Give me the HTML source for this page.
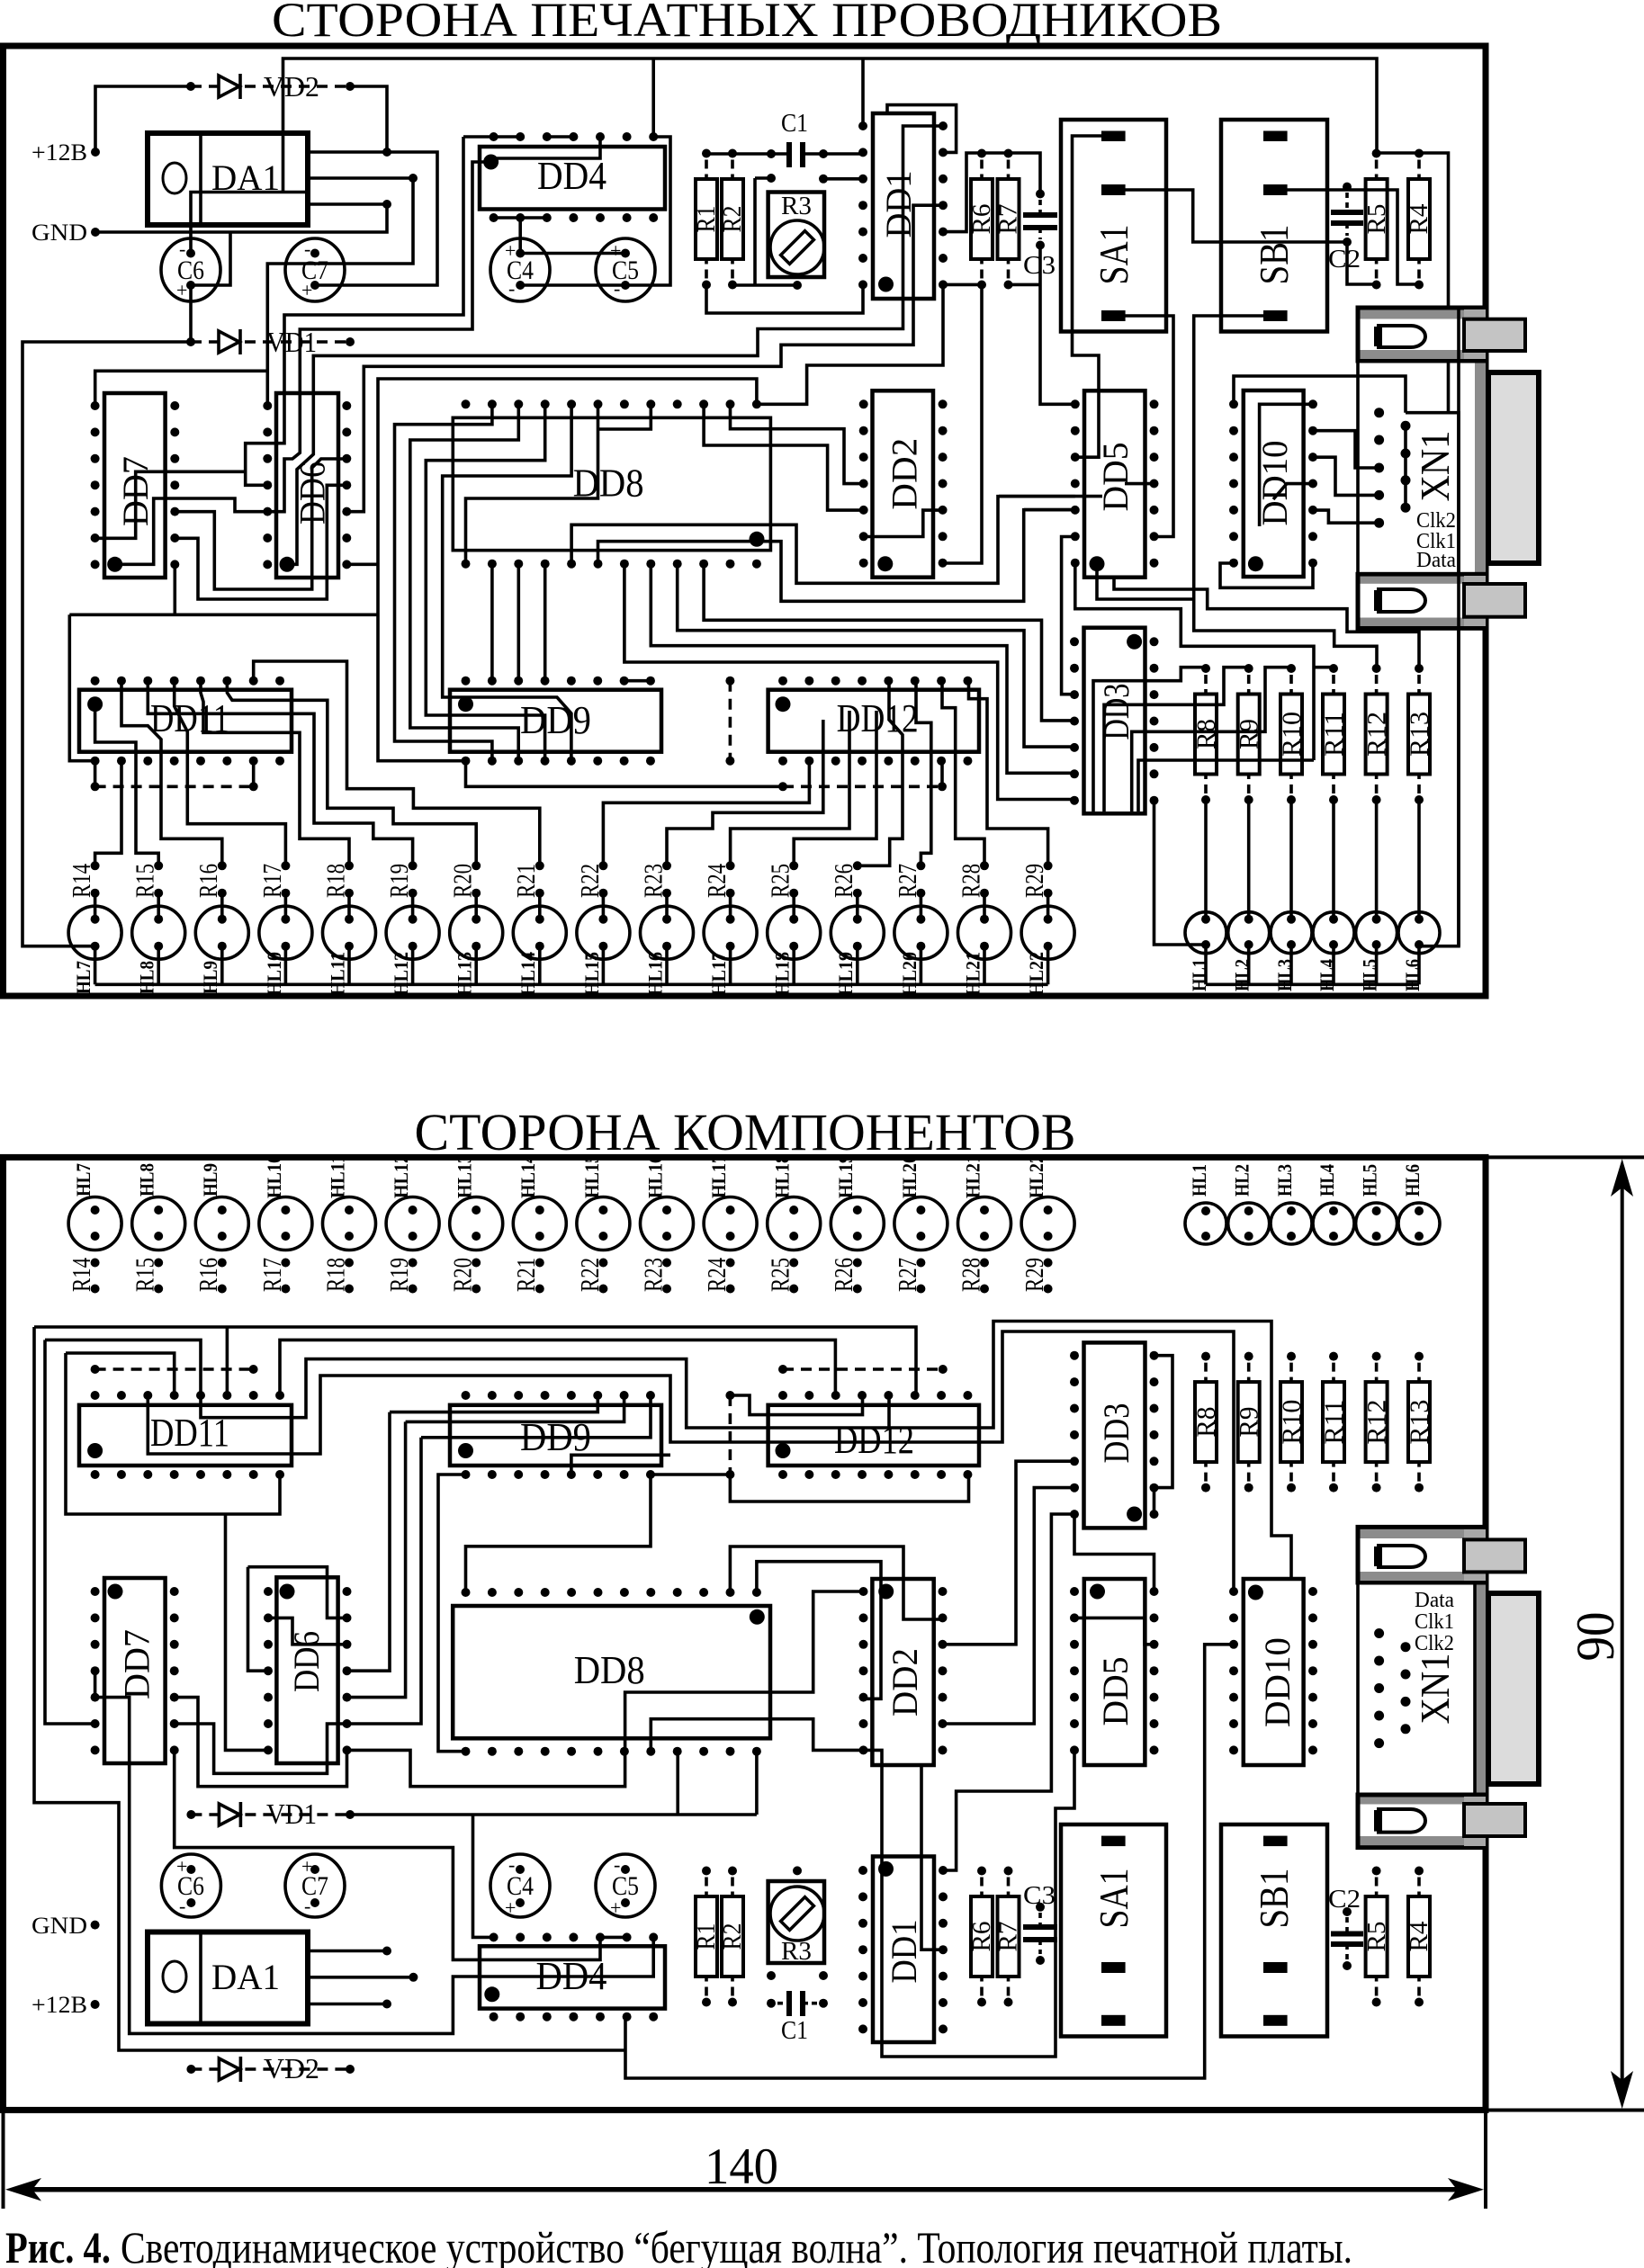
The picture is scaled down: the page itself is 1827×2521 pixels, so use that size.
<!DOCTYPE html>
<html><head><meta charset="utf-8">
<style>
html,body{margin:0;padding:0;background:#fff;}
svg{display:block;}
.t{fill:none;stroke:#000;stroke-width:3.6;}
.ch{fill:none;stroke:#000;stroke-width:4.5;}
.ds{fill:none;stroke:#000;stroke-width:3.6;stroke-dasharray:12 8;}
.ld{fill:none;stroke:#000;stroke-width:3.6;}
text{font-family:"Liberation Serif","DejaVu Serif",serif;fill:#000;}
.b{font-weight:bold;}
</style></head><body>
<svg width="1827" height="2521" viewBox="0 0 1827 2521" xmlns="http://www.w3.org/2000/svg">
<defs>
<g id="c7"><circle cx="0" cy="0" r="5"/><circle cx="0" cy="29.4" r="5"/><circle cx="0" cy="58.8" r="5"/><circle cx="0" cy="88.2" r="5"/><circle cx="0" cy="117.6" r="5"/><circle cx="0" cy="147" r="5"/><circle cx="0" cy="176.4" r="5"/></g>
<g id="r8"><circle cx="0" cy="0" r="5"/><circle cx="29.35" cy="0" r="5"/><circle cx="58.7" cy="0" r="5"/><circle cx="88.05" cy="0" r="5"/><circle cx="117.4" cy="0" r="5"/><circle cx="146.75" cy="0" r="5"/><circle cx="176.1" cy="0" r="5"/><circle cx="205.45" cy="0" r="5"/></g>
<g id="r12"><circle cx="0" cy="0" r="5"/><circle cx="29.4" cy="0" r="5"/><circle cx="58.8" cy="0" r="5"/><circle cx="88.2" cy="0" r="5"/><circle cx="117.6" cy="0" r="5"/><circle cx="147" cy="0" r="5"/><circle cx="176.4" cy="0" r="5"/><circle cx="205.8" cy="0" r="5"/><circle cx="235.2" cy="0" r="5"/><circle cx="264.6" cy="0" r="5"/><circle cx="294" cy="0" r="5"/><circle cx="323.4" cy="0" r="5"/></g>
<g id="r7"><circle cx="0" cy="0" r="5"/><circle cx="29.6" cy="0" r="5"/><circle cx="59.2" cy="0" r="5"/><circle cx="88.8" cy="0" r="5"/><circle cx="118.4" cy="0" r="5"/><circle cx="148" cy="0" r="5"/><circle cx="177.6" cy="0" r="5"/></g>
<g id="ledT"><circle r="29.5" class="ld"/><path d="M0,-44V-15M0,15V57.6" class="t"/><circle cy="-15" r="5"/><circle cy="15" r="5"/><circle cy="-74.4" r="5"/><circle cy="-44" r="5"/></g>
<g id="ledST"><circle r="23" class="ld"/><path d="M0,13.3V57.6" class="t"/><circle cy="-15" r="5"/><circle cy="13.3" r="5"/></g>
<g id="ledB"><circle r="29.5" class="ld"/><circle cy="-15" r="5"/><circle cy="14" r="5"/><circle cy="43.5" r="5"/><circle cy="72.5" r="5"/></g>
<g id="ledSB"><circle r="23" class="ld"/><circle cy="-14" r="5"/><circle cy="14" r="5"/></g>
<g id="res"><rect x="-12" y="-44.5" width="24" height="89" fill="none" stroke="#000" stroke-width="4"/><path d="M0,-66V-56M0,-50V-44.5M0,44.5V50M0,56V66" class="t"/><circle cy="-73" r="5"/><circle cy="73" r="5"/></g>
<g id="diode"><path d="M31,-12V12L54,0Z" fill="#fff" stroke="#000" stroke-width="3.6"/><path d="M55,-14V14" class="t"/></g>
</defs>

<!-- ================= TOP BOARD ================= -->
<text x="302" y="40" font-size="54" textLength="1056" lengthAdjust="spacingAndGlyphs">СТОРОНА ПЕЧАТНЫХ ПРОВОДНИКОВ</text>
<rect x="3.5" y="51" width="1647.5" height="1056" fill="none" stroke="#000" stroke-width="7"/>

<!-- traces -->
<path class="t" d="M106,169V96H212 M389,96H430V169 M342,169H486V317H350 M342,198H459V293H297.3V451 M342,227H430V258H106 M256,258V317H212 M342,213.5H212V281.5 M314.5,213.5V65H1530V170 M726.2,65V152 M959,65V140 M212,317V380 M212,380H25V1051.7H105.6"/>
<path class="t" d="M515,152V350H316V492.7H272.7V539.3H297.3 M272.7,524.3H150.7V598.3H105.7 M545.6,180H525V366H333.3V503.3L325,510H316V568.7H261V554H170.7V627.3H127.7 M515,152H578.2 M607.8,152H637.4 M667,152V176H545.6 M726.2,152H745V317H578.2 M548.6,242H607.8 M578.2,242V281.5H695 M785,171H877 M892,171H915 M839,198V317 M814,317H886 M839,198H857 M785,317V348H959V316.4 M915,171H959 M915,198.8H959"/>
<path class="t" d="M1048,140H1003.5V365.5H842V395.4H348.3V505L330,521.7V627.3H319 M1048,228.2H1015V383.3H868V407.3H404.3V568.7H385.3 M1048,316.4V406H896.6V449.3H840.9 M986,126V116.6H1062.6V169.4H1048 M1048,257.6H1074V170H1156V215.5 M1048,316.4H1091V626H1047.6 M1120.5,316.4H1156V272.5 M1156,316.4V449.3H1194.8"/>
<path class="t" d="M840.9,449.3V421H420V683.3 M420,627.3H385.3 M77.3,683.3H420 M194.3,627.3V683.3 M77.3,683.3V845.7H105.6 M420,683.3V845.7H517.5 M385.3,510H356.7L346.7,520V655H238.3V568.7H194.3 M385.3,539.3H363.3V666H220V598.3H194.3 M105.7,451V412.3H297.3 M546.9,449.3V471.7H438.5V824H546.9V845.7 M576.3,449.3V489H455.8V809H576.2V845.7 M605.7,449.3V511.7H473.3V795H605.6V845.7 M635.1,449.3V529H491.7V775H619L634.9,793V845.7 M664.5,449.3V554H517.5V626.7 M723.3,449.3V477H664.5 M782.1,449.3V495H919.6V567.1H959.7 M811.5,449.3V476.7H938V537.6H959.7 M503.3,464.3H856.4V611.7H503.3Z M635.1,626.7V583.3H885V648.3H1109V551.7H1194.8 M664.5,626.7V601.7H868V668.3H1137.7V566.7H1194.8 M546.9,626.7V756.7 M576.3,626.7V756.7 M605.7,626.7V756.7 M693.9,626.7V736H1108.7V888.5H1194 M723.3,626.7V717.7H1119V859.3H1194 M752.7,626.7V700.7H1138V830.1H1194 M782.1,626.7V689.3H1157.5V800.9H1194 M1047.6,567.1H1025.8V596.5H959.7"/>
<path class="t" d="M1224,151H1191.5V395H1221V508.2H1194.8 M1250,211H1325.7V269H1497 M1250,351H1304V596.5H1282.5 M1430,211H1553V316H1577 M1404,351H1326.7V701H1482.7V718.3H1530V741.7 M1326.7,666H1219V626.7 M1529.6,316H1497V269 M1530,170H1609.5V458.7H1621V1051.7H1577 M1509,401V638 M1562,458.7H1621 M1562,473.3V564.2 M1371,449.3V418H1562V458.7 M1459,449.3H1399.6V585 M1459,478.7H1506V520H1532.6 M1459,508.2H1484V550.4H1532.6 M1459,567.1H1476.4V581.2H1532.6 M1459,537.6H1430L1415,555 M1371,626H1356V653.3H1459V626 M1282.5,537.6H1250 M1110,551.6H1225 M1138,566.6H1194.8 M1194.8,596.5H1179.6V771.7H1194 M1577,741.7V702.3H1497V676.7H1341.7V655H1238V641 M1482.5,741.7H1460 M1460,845V718.3H1312.3V676.7H1194.8V626 M1460,845H1265V902 M1435,741.7H1406V813.3H1257.7V902 M1388,741.7H1360V783.3H1227V902 M1341,741.7H1312.3V756.7H1215V902"/>
<path class="t" d="M1340,888.3V1021.7 M1387.7,888.3V1021.7 M1435,888.3V1021.7 M1482,888.3V1021.7 M1529.6,888.3V1021.7 M1577,888.3V1021.7 M1282.5,888.5V1050H1340 M105.6,1094.3H1164.6 M1340,1094.3H1577"/>
<path class="t" d="M105.6,962.3V948.3H135V845.7 M176.2,962.3V948.3H151V825H105.6V782.7 M246.8,962.3V932.3H179V821.7L164.3,806.7H135V756.7 M317.4,962.3V915.7H208.3V813.3L193.7,785V756.7 M388,962.3V932.3H333V814.3H226V780L223,770V756.7 M458.6,962.3V932.3H414.8V915H349V793.3H164.3V756.7 M529.2,962.3V915.7H437V898.3H363.8V778.3H258L252.4,770V756.7 M599.8,962.3V898.3H459.4V876.7H385.5V735H281.7V756.7 M670.4,962.3V892.3H899.4V845.7 M741,962.3V921H792V903.3H914.8V800 M811.6,962.3V921H944V790 M882.2,962.3V932.3H974V790 M952.8,962.3H988.7V932.3H1003V816.7L988,800V756.7 M1023.4,962.3V948.3H1034.8V803.3H1018V756.7 M1094,962.3V932.3H1061.7V786.7H1047V756.7 M1164.6,962.3V921H1097V776.7H1076.5V756.7 M105.6,845.7V874.3 M281.7,845.7V874.3 M517.5,845.7V874.3H870 M1047,845.7V874.3 M693.6,756.7H723"/>
<path class="ds" d="M212,96H389 M212,380H389 M105.6,874.3H281.7 M870,874.3H1047 M811.4,756.7V845.7"/>
<use href="#diode" x="212" y="96"/><use href="#diode" x="212" y="380"/>

<!-- DA1 -->
<rect x="164" y="148" width="178" height="102" fill="none" stroke="#000" stroke-width="6"/>
<path d="M223,148V250" class="t"/>
<ellipse cx="194" cy="198" rx="13" ry="17" fill="none" stroke="#000" stroke-width="3"/>
<!-- caps -->
<ellipse cx="212" cy="300" rx="33" ry="35" class="ld"/><ellipse cx="350" cy="300" rx="33" ry="35" class="ld"/>
<ellipse cx="578" cy="300" rx="33" ry="35" class="ld"/><ellipse cx="695" cy="300" rx="33" ry="35" class="ld"/>
<!-- C1 C3 C2 -->
<path d="M877,158V186 M892,158V186" stroke="#000" stroke-width="6"/>
<path d="M1137,239H1175 M1137,253H1175" stroke="#000" stroke-width="6"/>
<path d="M1156,222V239 M1156,253V266" class="t" stroke-dasharray="6 5"/>
<path d="M1479,236H1515 M1479,248H1515" stroke="#000" stroke-width="6"/>
<path d="M1497,214V236 M1497,248V262" class="t" stroke-dasharray="6 5"/>
<!-- R3 -->
<rect x="853.6" y="213.5" width="62.4" height="94.5" class="ch"/>
<circle cx="886" cy="275" r="30" class="ld"/>
<rect x="-7" y="-19" width="14" height="38" transform="translate(886,275) rotate(45)" fill="none" stroke="#000" stroke-width="3.5"/>
<!-- SA1 SB1 -->
<rect x="1179" y="133" width="117" height="235.5" class="ch"/>
<rect x="1357" y="133" width="118" height="235.5" class="ch"/>
<rect x="1224" y="145.5" width="26.6" height="11.5"/><rect x="1224" y="205" width="26.6" height="12"/><rect x="1224" y="345" width="26.6" height="12"/>
<rect x="1404" y="145.5" width="26.6" height="11.5"/><rect x="1404" y="205" width="26.6" height="12"/><rect x="1404" y="345" width="26.6" height="12"/>
<!-- resistors -->
<use href="#res" x="785" y="243.5"/><use href="#res" x="814" y="243.5"/>
<use href="#res" x="1091" y="243.5"/><use href="#res" x="1120.5" y="243.5"/>
<use href="#res" x="1529.6" y="243.5"/><use href="#res" x="1577" y="243.5"/>
<use href="#res" x="1340" y="816"/><use href="#res" x="1387.7" y="816"/><use href="#res" x="1435" y="816"/><use href="#res" x="1482" y="816"/><use href="#res" x="1529.6" y="816"/><use href="#res" x="1577" y="816"/>

<!-- chips -->
<rect x="116" y="437" width="67.6" height="205" class="ch"/>
<rect x="307" y="437" width="69" height="205" class="ch"/>
<rect x="969.5" y="434.3" width="67.5" height="207.4" class="ch"/>
<rect x="1205" y="434.3" width="67.5" height="207.4" class="ch"/>
<rect x="1381.8" y="434" width="66.8" height="207" class="ch"/>
<rect x="970" y="126" width="68" height="206" class="ch"/>
<rect x="533" y="163" width="206" height="69.5" class="ch"/>
<rect x="88" y="766.7" width="236" height="69" class="ch"/>
<rect x="500" y="766.7" width="235" height="69" class="ch"/>
<rect x="853.6" y="766.7" width="234.4" height="69" class="ch"/>
<rect x="1204.5" y="697.7" width="68" height="206.6" class="ch"/>
<g>
<use href="#c7" x="105.6" y="451"/><use href="#c7" x="194.3" y="451"/>
<use href="#c7" x="297.3" y="451"/><use href="#c7" x="385.3" y="451"/>
<use href="#c7" x="959.7" y="449.3"/><use href="#c7" x="1047.6" y="449.3"/>
<use href="#c7" x="1194.8" y="449.3"/><use href="#c7" x="1282.5" y="449.3"/>
<use href="#c7" x="1371" y="449.3"/><use href="#c7" x="1459" y="449.3"/>
<use href="#c7" x="959" y="140"/><use href="#c7" x="1048" y="140"/>
<use href="#c7" x="1194" y="713.3"/><use href="#c7" x="1282.5" y="713.3"/>
<use href="#r12" x="517.5" y="449.3"/><use href="#r12" x="517.5" y="626.7"/>
<use href="#r7" x="548.6" y="152"/><use href="#r7" x="548.6" y="242"/>
<use href="#r8" x="105.6" y="756.7"/><use href="#r8" x="105.6" y="845.7"/>
<use href="#r8" x="517.5" y="756.7"/><use href="#r8" x="517.5" y="845.7"/>
<use href="#r8" x="870" y="756.7"/><use href="#r8" x="870" y="845.7"/>
</g>
<g>
<circle cx="127.7" cy="627.3" r="8.5"/><circle cx="319" cy="627.3" r="8.5"/><circle cx="983.8" cy="626.7" r="8.5"/><circle cx="1219" cy="626.7" r="8.5"/><circle cx="1395.4" cy="626.7" r="8.5"/><circle cx="984.5" cy="316" r="8.5"/><circle cx="545.6" cy="180" r="8.5"/><circle cx="105.6" cy="782.7" r="8.5"/><circle cx="517.5" cy="782.7" r="8.5"/><circle cx="870" cy="782.7" r="8.5"/><circle cx="1260.6" cy="713.3" r="8.5"/><circle cx="841" cy="599.3" r="8.5"/>
</g>
<g>
<circle cx="106" cy="169" r="5"/><circle cx="106" cy="258" r="5"/><circle cx="212" cy="96" r="5"/><circle cx="389" cy="96" r="5"/><circle cx="430" cy="169" r="5"/><circle cx="459" cy="198" r="5"/><circle cx="430" cy="227" r="5"/><circle cx="212" cy="281.5" r="5"/><circle cx="212" cy="317" r="5"/><circle cx="350" cy="281.5" r="5"/><circle cx="350" cy="317" r="5"/><circle cx="578.2" cy="281.5" r="5"/><circle cx="578.2" cy="317" r="5"/><circle cx="695" cy="281.5" r="5"/><circle cx="695" cy="317" r="5"/><circle cx="212" cy="380" r="5"/><circle cx="389" cy="380" r="5"/><circle cx="857" cy="171" r="5"/><circle cx="915" cy="171" r="5"/><circle cx="857" cy="198" r="5"/><circle cx="886" cy="317" r="5"/><circle cx="915" cy="198.8" r="5"/><circle cx="1156" cy="215.5" r="5"/><circle cx="1156" cy="272.5" r="5"/><circle cx="1497" cy="207.6" r="5"/><circle cx="1497" cy="269" r="5"/><circle cx="105.6" cy="874.3" r="5"/><circle cx="281.7" cy="874.3" r="5"/><circle cx="870" cy="874.3" r="5"/><circle cx="1047" cy="874.3" r="5"/><circle cx="811.4" cy="756.7" r="5"/><circle cx="811.4" cy="845.7" r="5"/>
<circle cx="1532.6" cy="458.7" r="5.5"/><circle cx="1532.6" cy="489" r="5.5"/><circle cx="1532.6" cy="520" r="5.5"/><circle cx="1532.6" cy="550.4" r="5.5"/><circle cx="1532.6" cy="581.2" r="5.5"/><circle cx="1562" cy="473.3" r="5.5"/><circle cx="1562" cy="504" r="5.5"/><circle cx="1562" cy="533.8" r="5.5"/><circle cx="1562" cy="564.2" r="5.5"/>
</g>
<!-- LEDs top -->
<g>
<use href="#ledT" x="105.6" y="1036.7"/><use href="#ledT" x="176.2" y="1036.7"/><use href="#ledT" x="246.8" y="1036.7"/><use href="#ledT" x="317.4" y="1036.7"/><use href="#ledT" x="388" y="1036.7"/><use href="#ledT" x="458.6" y="1036.7"/><use href="#ledT" x="529.2" y="1036.7"/><use href="#ledT" x="599.8" y="1036.7"/><use href="#ledT" x="670.4" y="1036.7"/><use href="#ledT" x="741" y="1036.7"/><use href="#ledT" x="811.6" y="1036.7"/><use href="#ledT" x="882.2" y="1036.7"/><use href="#ledT" x="952.8" y="1036.7"/><use href="#ledT" x="1023.4" y="1036.7"/><use href="#ledT" x="1094" y="1036.7"/><use href="#ledT" x="1164.6" y="1036.7"/>
<use href="#ledST" x="1340" y="1036.7"/><use href="#ledST" x="1387.7" y="1036.7"/><use href="#ledST" x="1435" y="1036.7"/><use href="#ledST" x="1482" y="1036.7"/><use href="#ledST" x="1529.6" y="1036.7"/><use href="#ledST" x="1577" y="1036.7"/>
</g>
<!-- XN1 top -->
<g>
<rect x="1639" y="342" width="12" height="356" fill="#8c8c8c"/>
<rect x="1509" y="342" width="142" height="59" fill="#fff" stroke="#000" stroke-width="5"/>
<rect x="1511.5" y="344.5" width="137" height="10" fill="#8c8c8c"/>
<rect x="1511.5" y="389" width="137" height="10" fill="#8c8c8c"/>
<rect x="1627" y="344" width="24" height="55" fill="#a8a8a8"/>
<rect x="1627" y="354.7" width="68" height="35.3" fill="#c4c4c4" stroke="#000" stroke-width="4"/>
<path d="M1532,362H1568A16,12 0 0 1 1568,386H1532Z" fill="#fff" stroke="#000" stroke-width="4"/>
<rect x="1527" y="363" width="9" height="22"/>
<rect x="1654" y="414" width="56" height="212" fill="#dcdcdc" stroke="#000" stroke-width="6"/>
<rect x="1509" y="638.3" width="142" height="60" fill="#fff" stroke="#000" stroke-width="5"/>
<rect x="1511.5" y="640.8" width="137" height="8" fill="#8c8c8c"/>
<rect x="1511.5" y="686.5" width="137" height="9.5" fill="#8c8c8c"/>
<rect x="1627" y="640" width="24" height="56" fill="#a8a8a8"/>
<rect x="1627" y="649" width="68" height="36.7" fill="#c4c4c4" stroke="#000" stroke-width="4"/>
<path d="M1532,655H1568A16,12.5 0 0 1 1568,680H1532Z" fill="#fff" stroke="#000" stroke-width="4"/>
<rect x="1527" y="656" width="9" height="23"/>
<path d="M1621,342V1051.7" class="t"/>
</g>

<!-- top texts -->
<text x="35" y="178" font-size="26" textLength="62" lengthAdjust="spacingAndGlyphs">+12В</text>
<text x="35" y="267" font-size="26" textLength="62" lengthAdjust="spacingAndGlyphs">GND</text>
<text x="293" y="107" font-size="32" textLength="62" lengthAdjust="spacingAndGlyphs">VD2</text>
<text x="296" y="391" font-size="32" textLength="56" lengthAdjust="spacingAndGlyphs">VD1</text>
<text x="235" y="211" font-size="40" textLength="76" lengthAdjust="spacingAndGlyphs">DA1</text>
<text x="197" y="310" font-size="30" textLength="30" lengthAdjust="spacingAndGlyphs">C6</text>
<text x="335" y="310" font-size="30" textLength="30" lengthAdjust="spacingAndGlyphs">C7</text>
<text x="563" y="310" font-size="30" textLength="30" lengthAdjust="spacingAndGlyphs">C4</text>
<text x="680" y="310" font-size="30" textLength="30" lengthAdjust="spacingAndGlyphs">C5</text>
<text x="199" y="284" font-size="22">-</text><text x="196" y="330" font-size="22">+</text>
<text x="338" y="284" font-size="22">-</text><text x="335" y="330" font-size="22">+</text>
<text x="561" y="286" font-size="22">+</text><text x="565" y="328" font-size="22">-</text>
<text x="678" y="286" font-size="22">+</text><text x="682" y="328" font-size="22">-</text>
<text x="597" y="210" font-size="44" textLength="77" lengthAdjust="spacingAndGlyphs">DD4</text>
<text x="868" y="146" font-size="28" textLength="30" lengthAdjust="spacingAndGlyphs">C1</text>
<text x="868" y="238" font-size="28" textLength="34" lengthAdjust="spacingAndGlyphs">R3</text>
<text transform="translate(794.2,243.5) rotate(-90)" text-anchor="middle" font-size="28" textLength="30" lengthAdjust="spacingAndGlyphs">R1</text>
<text transform="translate(823.2,243.5) rotate(-90)" text-anchor="middle" font-size="28" textLength="30" lengthAdjust="spacingAndGlyphs">R2</text>
<text transform="translate(1012.2,227) rotate(-90)" text-anchor="middle" font-size="40" textLength="75" lengthAdjust="spacingAndGlyphs">DD1</text>
<text transform="translate(1100.2,243.5) rotate(-90)" text-anchor="middle" font-size="28" textLength="34" lengthAdjust="spacingAndGlyphs">R6</text>
<text transform="translate(1129.7,243.5) rotate(-90)" text-anchor="middle" font-size="28" textLength="34" lengthAdjust="spacingAndGlyphs">R7</text>
<text x="1137" y="304" font-size="28" textLength="36" lengthAdjust="spacingAndGlyphs">C3</text>
<text transform="translate(1253,283) rotate(-90)" text-anchor="middle" font-size="46" textLength="67" lengthAdjust="spacingAndGlyphs">SA1</text>
<text transform="translate(1431,283) rotate(-90)" text-anchor="middle" font-size="46" textLength="67" lengthAdjust="spacingAndGlyphs">SB1</text>
<text x="1476" y="297" font-size="28" textLength="36" lengthAdjust="spacingAndGlyphs">C2</text>
<text transform="translate(1538.8,243.5) rotate(-90)" text-anchor="middle" font-size="28" textLength="34" lengthAdjust="spacingAndGlyphs">R5</text>
<text transform="translate(1586.2,243.5) rotate(-90)" text-anchor="middle" font-size="28" textLength="34" lengthAdjust="spacingAndGlyphs">R4</text>
<text transform="translate(164.2,546) rotate(-90)" text-anchor="middle" font-size="40" textLength="78" lengthAdjust="spacingAndGlyphs">DD7</text>
<text transform="translate(360.7,548) rotate(-90)" text-anchor="middle" font-size="40" textLength="70" lengthAdjust="spacingAndGlyphs">DD6</text>
<text x="636.6" y="551.6" font-size="44" textLength="79" lengthAdjust="spacingAndGlyphs">DD8</text>
<text transform="translate(1018.7,526.7) rotate(-90)" text-anchor="middle" font-size="40" textLength="80" lengthAdjust="spacingAndGlyphs">DD2</text>
<text transform="translate(1253.2,530) rotate(-90)" text-anchor="middle" font-size="40" textLength="77" lengthAdjust="spacingAndGlyphs">DD5</text>
<text transform="translate(1430.2,537) rotate(-90)" text-anchor="middle" font-size="40" textLength="95" lengthAdjust="spacingAndGlyphs">DD10</text>
<text transform="translate(1610,518) rotate(-90)" text-anchor="middle" font-size="46" textLength="79" lengthAdjust="spacingAndGlyphs">XN1</text>
<text x="1574" y="586" font-size="24" textLength="44" lengthAdjust="spacingAndGlyphs">Clk2</text>
<text x="1574" y="609" font-size="24" textLength="44" lengthAdjust="spacingAndGlyphs">Clk1</text>
<text x="1574" y="630" font-size="24" textLength="44" lengthAdjust="spacingAndGlyphs">Data</text>
<text x="167" y="813" font-size="44" textLength="88" lengthAdjust="spacingAndGlyphs">DD11</text>
<text x="578" y="815" font-size="44" textLength="79" lengthAdjust="spacingAndGlyphs">DD9</text>
<text x="929.6" y="813" font-size="44" textLength="91" lengthAdjust="spacingAndGlyphs">DD12</text>
<text transform="translate(1254.2,791) rotate(-90)" text-anchor="middle" font-size="40" textLength="63" lengthAdjust="spacingAndGlyphs">DD3</text>
<text transform="translate(1350,816) rotate(-90)" text-anchor="middle" font-size="30" textLength="34" lengthAdjust="spacingAndGlyphs">R8</text>
<text transform="translate(1397.7,816) rotate(-90)" text-anchor="middle" font-size="30" textLength="34" lengthAdjust="spacingAndGlyphs">R9</text>
<text transform="translate(1445,816) rotate(-90)" text-anchor="middle" font-size="30" textLength="50" lengthAdjust="spacingAndGlyphs">R10</text>
<text transform="translate(1492,816) rotate(-90)" text-anchor="middle" font-size="30" textLength="50" lengthAdjust="spacingAndGlyphs">R11</text>
<text transform="translate(1539.6,816) rotate(-90)" text-anchor="middle" font-size="30" textLength="50" lengthAdjust="spacingAndGlyphs">R12</text>
<text transform="translate(1587,816) rotate(-90)" text-anchor="middle" font-size="30" textLength="50" lengthAdjust="spacingAndGlyphs">R13</text>
<g font-size="28">
<text transform="translate(100,998) rotate(-90)" textLength="38" lengthAdjust="spacingAndGlyphs">R14</text>
<text transform="translate(170.6,998) rotate(-90)" textLength="38" lengthAdjust="spacingAndGlyphs">R15</text>
<text transform="translate(241.2,998) rotate(-90)" textLength="38" lengthAdjust="spacingAndGlyphs">R16</text>
<text transform="translate(311.8,998) rotate(-90)" textLength="38" lengthAdjust="spacingAndGlyphs">R17</text>
<text transform="translate(382.4,998) rotate(-90)" textLength="38" lengthAdjust="spacingAndGlyphs">R18</text>
<text transform="translate(453,998) rotate(-90)" textLength="38" lengthAdjust="spacingAndGlyphs">R19</text>
<text transform="translate(523.6,998) rotate(-90)" textLength="38" lengthAdjust="spacingAndGlyphs">R20</text>
<text transform="translate(594.2,998) rotate(-90)" textLength="38" lengthAdjust="spacingAndGlyphs">R21</text>
<text transform="translate(664.8,998) rotate(-90)" textLength="38" lengthAdjust="spacingAndGlyphs">R22</text>
<text transform="translate(735.4,998) rotate(-90)" textLength="38" lengthAdjust="spacingAndGlyphs">R23</text>
<text transform="translate(806,998) rotate(-90)" textLength="38" lengthAdjust="spacingAndGlyphs">R24</text>
<text transform="translate(876.6,998) rotate(-90)" textLength="38" lengthAdjust="spacingAndGlyphs">R25</text>
<text transform="translate(947.2,998) rotate(-90)" textLength="38" lengthAdjust="spacingAndGlyphs">R26</text>
<text transform="translate(1017.8,998) rotate(-90)" textLength="38" lengthAdjust="spacingAndGlyphs">R27</text>
<text transform="translate(1088.4,998) rotate(-90)" textLength="38" lengthAdjust="spacingAndGlyphs">R28</text>
<text transform="translate(1159,998) rotate(-90)" textLength="38" lengthAdjust="spacingAndGlyphs">R29</text>
</g>
<g font-size="22" class="b">
<text class="b" transform="translate(100,1105) rotate(-90)" textLength="37" lengthAdjust="spacingAndGlyphs">HL7</text>
<text class="b" transform="translate(170.6,1105) rotate(-90)" textLength="37" lengthAdjust="spacingAndGlyphs">HL8</text>
<text class="b" transform="translate(241.2,1105) rotate(-90)" textLength="37" lengthAdjust="spacingAndGlyphs">HL9</text>
<text class="b" transform="translate(311.8,1107) rotate(-90)" textLength="49" lengthAdjust="spacingAndGlyphs">HL10</text>
<text class="b" transform="translate(382.4,1107) rotate(-90)" textLength="49" lengthAdjust="spacingAndGlyphs">HL11</text>
<text class="b" transform="translate(453,1107) rotate(-90)" textLength="49" lengthAdjust="spacingAndGlyphs">HL12</text>
<text class="b" transform="translate(523.6,1107) rotate(-90)" textLength="49" lengthAdjust="spacingAndGlyphs">HL13</text>
<text class="b" transform="translate(594.2,1107) rotate(-90)" textLength="49" lengthAdjust="spacingAndGlyphs">HL14</text>
<text class="b" transform="translate(664.8,1107) rotate(-90)" textLength="49" lengthAdjust="spacingAndGlyphs">HL15</text>
<text class="b" transform="translate(735.4,1107) rotate(-90)" textLength="49" lengthAdjust="spacingAndGlyphs">HL16</text>
<text class="b" transform="translate(806,1107) rotate(-90)" textLength="49" lengthAdjust="spacingAndGlyphs">HL17</text>
<text class="b" transform="translate(876.6,1107) rotate(-90)" textLength="49" lengthAdjust="spacingAndGlyphs">HL18</text>
<text class="b" transform="translate(947.2,1107) rotate(-90)" textLength="49" lengthAdjust="spacingAndGlyphs">HL19</text>
<text class="b" transform="translate(1017.8,1107) rotate(-90)" textLength="49" lengthAdjust="spacingAndGlyphs">HL20</text>
<text class="b" transform="translate(1088.4,1107) rotate(-90)" textLength="49" lengthAdjust="spacingAndGlyphs">HL21</text>
<text class="b" transform="translate(1159,1107) rotate(-90)" textLength="49" lengthAdjust="spacingAndGlyphs">HL22</text>
<text class="b" transform="translate(1340,1102) rotate(-90)" textLength="36" lengthAdjust="spacingAndGlyphs">HL1</text>
<text class="b" transform="translate(1387.7,1102) rotate(-90)" textLength="36" lengthAdjust="spacingAndGlyphs">HL2</text>
<text class="b" transform="translate(1435,1102) rotate(-90)" textLength="36" lengthAdjust="spacingAndGlyphs">HL3</text>
<text class="b" transform="translate(1482,1102) rotate(-90)" textLength="36" lengthAdjust="spacingAndGlyphs">HL4</text>
<text class="b" transform="translate(1529.6,1102) rotate(-90)" textLength="36" lengthAdjust="spacingAndGlyphs">HL5</text>
<text class="b" transform="translate(1577,1102) rotate(-90)" textLength="36" lengthAdjust="spacingAndGlyphs">HL6</text>
</g>

<!-- ================= BOTTOM BOARD ================= -->
<text x="460.5" y="1278" font-size="58" textLength="735" lengthAdjust="spacingAndGlyphs">СТОРОНА КОМПОНЕНТОВ</text>
<rect x="3.5" y="1286.4" width="1647.5" height="1059" fill="none" stroke="#000" stroke-width="7"/>

<path class="t" d="M38,1475H1018V1551 M38,1475V2003.7H132V2279H695 M695,2241.7V2310H1338.7V1827.8H1371 M50,1489.4H223V1575.7H340V1510.6H762.7V1587H1104V1468.5H1413V1707H1435V1755 M988,1551V1587 M50,1489.4V1916H105.6 M73,1504H193.7V1551 M73,1504V1683H311V1639 M252.4,1475V1551 M311,1551V1489.4H928.4V1551 M164.3,1551V1616H356V1529H745V1603H1114V1480H1371V1769 M250.5,1683V1945.4H298"/>
<path class="t" d="M433,1569.6H664.3V1551 M433,1569.6V1857.2H385.5 M450.6,1580.4H693.6V1551 M450.6,1580.4V1886.6H385.5 M468,1597.8H723V1551 M468,1597.8V1916H385.5 M517.5,1639H487V1946.7H517.5 M634.9,1639V1617.3H745 M723,1639V1718.8H517.5V1770 M723,1639H811.4 M811.4,1639V1669H1076.5V1639 M811.4,1551H833V1572.6H958.5V1551 M811.4,1770V1719H1004V1800H1047.5 M840.9,1770V1735.7H979V1888.3H959.5 M1047.5,1827.8H1129V1624.2H1194 M1047.5,1916H1149.3V1653.6H1194 M1048,2079H1062.6V1991H1168.4V1683H1194 M1194,1683V1727.5H1282.5V1769 M1282.5,1506.7H1303V1653.6H1282.5V1683"/>
<path class="t" d="M694.6,1946.7V1881H903.7V1769H959.5 M385.5,1945.4H456V1985.7H694.6V1946.7 M723.3,1946.7V1910.7H903.7V1945.4H980V2286H1173V2010H1194V1945.4 M753.2,1946.7V2017 M840.9,1946.7V2017 M389,2017H840.9 M525.5,2017V2153.4H548.6 M275.5,1741.7V1857.2H298 M275.5,1741.7H363.5V1798.4H385.5 M298,1798.4H325V1827.8H385.5 M385.5,1916H363.5V1971.3H237.6V1916H193.7 M385.5,1945.4V1985.7H220V1886.6H193.7 M667,2153.4H696.6 M667,2153.4V2178.4H503.4V2053.6H193.7V1945.4 M726.2,2153.4V2197H503.4V2260.4H143.7V1886.6H105.6V1857.2 M1024,1962V2167.2H1048 M1194,1798.4H1272V1827.8H1282.5 M342,2168.5H430 M342,2197.8H459.4 M342,2227.5H430 M1509,1759V1995"/>
<path class="ds" d="M212.4,2017H389 M212.4,2300H389 M105.6,1522H281.6 M870,1522H1047.8 M811.4,1551V1639"/>
<use href="#diode" x="212.4" y="2017"/><use href="#diode" x="212.4" y="2300"/>

<rect x="164" y="2147.5" width="178" height="102" fill="none" stroke="#000" stroke-width="6"/>
<path d="M223,2147.5V2249.5" class="t"/>
<ellipse cx="194" cy="2197" rx="13" ry="17" fill="none" stroke="#000" stroke-width="3"/>
<ellipse cx="212.4" cy="2096" rx="33" ry="35" class="ld"/><ellipse cx="350" cy="2096" rx="33" ry="35" class="ld"/>
<ellipse cx="578" cy="2096" rx="33" ry="35" class="ld"/><ellipse cx="695" cy="2096" rx="33" ry="35" class="ld"/>
<path d="M877,2213V2241 M892,2213V2241" stroke="#000" stroke-width="6"/>
<path d="M864,2226.7H877 M892,2226.7H908" class="t" stroke-dasharray="6 4"/>
<path d="M1137,2142H1175 M1137,2156H1175" stroke="#000" stroke-width="6"/>
<path d="M1156,2126V2142 M1156,2156V2172" class="t" stroke-dasharray="6 5"/>
<path d="M1479,2149.5H1515 M1479,2161H1515" stroke="#000" stroke-width="6"/>
<path d="M1497,2131V2149.5 M1497,2161V2178" class="t" stroke-dasharray="6 5"/>
<rect x="853.6" y="2091" width="62.4" height="91" class="ch"/>
<circle cx="886" cy="2127" r="30" class="ld"/>
<rect x="-7" y="-19" width="14" height="38" transform="translate(886,2127) rotate(45)" fill="none" stroke="#000" stroke-width="3.5"/>
<rect x="1179" y="2028" width="117" height="235.5" class="ch"/>
<rect x="1357" y="2028" width="118" height="235.5" class="ch"/>
<rect x="1224" y="2040.6" width="26.6" height="11.5"/><rect x="1224" y="2181" width="26.6" height="12"/><rect x="1224" y="2239.8" width="26.6" height="12"/>
<rect x="1404" y="2040.6" width="26.6" height="11.5"/><rect x="1404" y="2181" width="26.6" height="12"/><rect x="1404" y="2239.8" width="26.6" height="12"/>
<use href="#res" x="785" y="2152.5"/><use href="#res" x="814" y="2152.5"/>
<use href="#res" x="1091" y="2152.5"/><use href="#res" x="1120.5" y="2152.5"/>
<use href="#res" x="1529.6" y="2152.5"/><use href="#res" x="1577" y="2152.5"/>
<use href="#res" x="1340" y="1580.6"/><use href="#res" x="1387.7" y="1580.6"/><use href="#res" x="1435" y="1580.6"/><use href="#res" x="1482" y="1580.6"/><use href="#res" x="1529.6" y="1580.6"/><use href="#res" x="1577" y="1580.6"/>

<rect x="116" y="1754" width="67.6" height="206" class="ch"/>
<rect x="307.4" y="1753.3" width="68.2" height="206.7" class="ch"/>
<rect x="969.4" y="1755" width="68.3" height="207" class="ch"/>
<rect x="1204.8" y="1755" width="67.6" height="207" class="ch"/>
<rect x="1381.8" y="1755" width="66.8" height="207" class="ch"/>
<rect x="1204.5" y="1492.4" width="68" height="206" class="ch"/>
<rect x="970" y="2063.5" width="68" height="206.5" class="ch"/>
<rect x="533" y="2163.3" width="206" height="69.3" class="ch"/>
<rect x="88" y="1561.8" width="236" height="67.2" class="ch"/>
<rect x="500" y="1561.8" width="235" height="67.2" class="ch"/>
<rect x="853.6" y="1561.8" width="234.4" height="67.2" class="ch"/>
<rect x="503.2" y="1785" width="352.8" height="147.3" class="ch"/>
<g>
<use href="#c7" x="105.6" y="1769"/><use href="#c7" x="193.7" y="1769"/>
<use href="#c7" x="298" y="1769"/><use href="#c7" x="385.5" y="1769"/>
<use href="#c7" x="959.5" y="1769"/><use href="#c7" x="1047.5" y="1769"/>
<use href="#c7" x="1194" y="1769"/><use href="#c7" x="1282.5" y="1769"/>
<use href="#c7" x="1371" y="1769"/><use href="#c7" x="1459" y="1769"/>
<use href="#c7" x="1194" y="1506.7"/><use href="#c7" x="1282.5" y="1506.7"/>
<use href="#c7" x="959" y="2079"/><use href="#c7" x="1048" y="2079"/>
<use href="#r12" x="517.5" y="1770"/><use href="#r12" x="517.5" y="1946.7"/>
<use href="#r7" x="548.6" y="2153.4"/><use href="#r7" x="548.6" y="2241.7"/>
<use href="#r8" x="105.6" y="1551"/><use href="#r8" x="105.6" y="1639"/>
<use href="#r8" x="517.5" y="1551"/><use href="#r8" x="517.5" y="1639"/>
<use href="#r8" x="870" y="1551"/><use href="#r8" x="870" y="1639"/>
</g>
<g>
<circle cx="128" cy="1769" r="8.5"/><circle cx="319" cy="1769" r="8.5"/><circle cx="984.7" cy="1769" r="8.5"/><circle cx="1219.5" cy="1769" r="8.5"/><circle cx="1395.4" cy="1770" r="8.5"/><circle cx="1260.6" cy="1683" r="8.5"/><circle cx="984.5" cy="2077.4" r="8.5"/><circle cx="546.8" cy="2216.8" r="8.5"/><circle cx="105.6" cy="1612.5" r="8.5"/><circle cx="517.5" cy="1612.5" r="8.5"/><circle cx="870" cy="1612.5" r="8.5"/><circle cx="841.3" cy="1797.3" r="8.5"/>
</g>
<g>
<circle cx="105.6" cy="2139.6" r="5"/><circle cx="105.6" cy="2228" r="5"/><circle cx="212.4" cy="2017" r="5"/><circle cx="389" cy="2017" r="5"/><circle cx="212.4" cy="2300" r="5"/><circle cx="389" cy="2300" r="5"/><circle cx="430" cy="2168.5" r="5"/><circle cx="459.4" cy="2197.8" r="5"/><circle cx="430" cy="2227.5" r="5"/>
<circle cx="212.4" cy="2078" r="5"/><circle cx="212.4" cy="2115" r="5"/><circle cx="350" cy="2078" r="5"/><circle cx="350" cy="2115" r="5"/><circle cx="578" cy="2078" r="5"/><circle cx="578" cy="2115" r="5"/><circle cx="695" cy="2078" r="5"/><circle cx="695" cy="2115" r="5"/>
<circle cx="886" cy="2079.4" r="5"/><circle cx="857" cy="2196" r="5"/><circle cx="915" cy="2196" r="5"/><circle cx="857" cy="2226.7" r="5"/><circle cx="915" cy="2226.7" r="5"/><circle cx="1156" cy="2119.8" r="5"/><circle cx="1156" cy="2179" r="5"/><circle cx="1497" cy="2125" r="5"/><circle cx="1497" cy="2185" r="5"/>
<circle cx="105.6" cy="1522" r="5"/><circle cx="281.6" cy="1522" r="5"/><circle cx="870" cy="1522" r="5"/><circle cx="1047.8" cy="1522" r="5"/><circle cx="811.4" cy="1551" r="5"/><circle cx="811.4" cy="1639" r="5"/>
<circle cx="1532.6" cy="1815.5" r="5.5"/><circle cx="1532.6" cy="1846" r="5.5"/><circle cx="1532.6" cy="1876.5" r="5.5"/><circle cx="1532.6" cy="1907" r="5.5"/><circle cx="1532.6" cy="1937.6" r="5.5"/><circle cx="1562" cy="1830.7" r="5.5"/><circle cx="1562" cy="1861" r="5.5"/><circle cx="1562" cy="1891.4" r="5.5"/><circle cx="1562" cy="1921.8" r="5.5"/>
</g>
<g>
<use href="#ledB" x="105.6" y="1360"/><use href="#ledB" x="176.2" y="1360"/><use href="#ledB" x="246.8" y="1360"/><use href="#ledB" x="317.4" y="1360"/><use href="#ledB" x="388" y="1360"/><use href="#ledB" x="458.6" y="1360"/><use href="#ledB" x="529.2" y="1360"/><use href="#ledB" x="599.8" y="1360"/><use href="#ledB" x="670.4" y="1360"/><use href="#ledB" x="741" y="1360"/><use href="#ledB" x="811.6" y="1360"/><use href="#ledB" x="882.2" y="1360"/><use href="#ledB" x="952.8" y="1360"/><use href="#ledB" x="1023.4" y="1360"/><use href="#ledB" x="1094" y="1360"/><use href="#ledB" x="1164.6" y="1360"/>
<use href="#ledSB" x="1340" y="1360"/><use href="#ledSB" x="1387.7" y="1360"/><use href="#ledSB" x="1435" y="1360"/><use href="#ledSB" x="1482" y="1360"/><use href="#ledSB" x="1529.6" y="1360"/><use href="#ledSB" x="1577" y="1360"/>
</g>
<!-- XN1 bottom -->
<g>
<rect x="1639" y="1697.4" width="12" height="356" fill="#8c8c8c"/>
<rect x="1509" y="1697.4" width="142" height="61.6" fill="#fff" stroke="#000" stroke-width="5"/>
<rect x="1511.5" y="1700" width="137" height="10" fill="#8c8c8c"/>
<rect x="1511.5" y="1747" width="137" height="10" fill="#8c8c8c"/>
<rect x="1627" y="1700" width="24" height="57" fill="#a8a8a8"/>
<rect x="1627" y="1711.4" width="68" height="36" fill="#c4c4c4" stroke="#000" stroke-width="4"/>
<path d="M1532,1718H1568A16,12 0 0 1 1568,1742H1532Z" fill="#fff" stroke="#000" stroke-width="4"/>
<rect x="1527" y="1719" width="9" height="22"/>
<rect x="1654" y="1771" width="56" height="212" fill="#dcdcdc" stroke="#000" stroke-width="6"/>
<rect x="1509" y="1995" width="142" height="58.6" fill="#fff" stroke="#000" stroke-width="5"/>
<rect x="1511.5" y="1997.5" width="137" height="8" fill="#8c8c8c"/>
<rect x="1511.5" y="2041" width="137" height="10" fill="#8c8c8c"/>
<rect x="1627" y="1997" width="24" height="55" fill="#a8a8a8"/>
<rect x="1627" y="2005" width="68" height="36" fill="#c4c4c4" stroke="#000" stroke-width="4"/>
<path d="M1532,2011H1568A16,12.8 0 0 1 1568,2036.6H1532Z" fill="#fff" stroke="#000" stroke-width="4"/>
<rect x="1527" y="2012" width="9" height="23.6"/>
<path d="M1639,1759V1995" class="t"/>
</g>

<!-- bottom texts -->
<g font-size="28">
<text transform="translate(100,1436) rotate(-90)" textLength="38" lengthAdjust="spacingAndGlyphs">R14</text>
<text transform="translate(170.6,1436) rotate(-90)" textLength="38" lengthAdjust="spacingAndGlyphs">R15</text>
<text transform="translate(241.2,1436) rotate(-90)" textLength="38" lengthAdjust="spacingAndGlyphs">R16</text>
<text transform="translate(311.8,1436) rotate(-90)" textLength="38" lengthAdjust="spacingAndGlyphs">R17</text>
<text transform="translate(382.4,1436) rotate(-90)" textLength="38" lengthAdjust="spacingAndGlyphs">R18</text>
<text transform="translate(453,1436) rotate(-90)" textLength="38" lengthAdjust="spacingAndGlyphs">R19</text>
<text transform="translate(523.6,1436) rotate(-90)" textLength="38" lengthAdjust="spacingAndGlyphs">R20</text>
<text transform="translate(594.2,1436) rotate(-90)" textLength="38" lengthAdjust="spacingAndGlyphs">R21</text>
<text transform="translate(664.8,1436) rotate(-90)" textLength="38" lengthAdjust="spacingAndGlyphs">R22</text>
<text transform="translate(735.4,1436) rotate(-90)" textLength="38" lengthAdjust="spacingAndGlyphs">R23</text>
<text transform="translate(806,1436) rotate(-90)" textLength="38" lengthAdjust="spacingAndGlyphs">R24</text>
<text transform="translate(876.6,1436) rotate(-90)" textLength="38" lengthAdjust="spacingAndGlyphs">R25</text>
<text transform="translate(947.2,1436) rotate(-90)" textLength="38" lengthAdjust="spacingAndGlyphs">R26</text>
<text transform="translate(1017.8,1436) rotate(-90)" textLength="38" lengthAdjust="spacingAndGlyphs">R27</text>
<text transform="translate(1088.4,1436) rotate(-90)" textLength="38" lengthAdjust="spacingAndGlyphs">R28</text>
<text transform="translate(1159,1436) rotate(-90)" textLength="38" lengthAdjust="spacingAndGlyphs">R29</text>
</g>
<g font-size="22">
<text class="b" transform="translate(100,1330) rotate(-90)" textLength="37" lengthAdjust="spacingAndGlyphs">HL7</text>
<text class="b" transform="translate(170.6,1330) rotate(-90)" textLength="37" lengthAdjust="spacingAndGlyphs">HL8</text>
<text class="b" transform="translate(241.2,1330) rotate(-90)" textLength="37" lengthAdjust="spacingAndGlyphs">HL9</text>
<text class="b" transform="translate(311.8,1332) rotate(-90)" textLength="49" lengthAdjust="spacingAndGlyphs">HL10</text>
<text class="b" transform="translate(382.4,1332) rotate(-90)" textLength="49" lengthAdjust="spacingAndGlyphs">HL11</text>
<text class="b" transform="translate(453,1332) rotate(-90)" textLength="49" lengthAdjust="spacingAndGlyphs">HL12</text>
<text class="b" transform="translate(523.6,1332) rotate(-90)" textLength="49" lengthAdjust="spacingAndGlyphs">HL13</text>
<text class="b" transform="translate(594.2,1332) rotate(-90)" textLength="49" lengthAdjust="spacingAndGlyphs">HL14</text>
<text class="b" transform="translate(664.8,1332) rotate(-90)" textLength="49" lengthAdjust="spacingAndGlyphs">HL15</text>
<text class="b" transform="translate(735.4,1332) rotate(-90)" textLength="49" lengthAdjust="spacingAndGlyphs">HL16</text>
<text class="b" transform="translate(806,1332) rotate(-90)" textLength="49" lengthAdjust="spacingAndGlyphs">HL17</text>
<text class="b" transform="translate(876.6,1332) rotate(-90)" textLength="49" lengthAdjust="spacingAndGlyphs">HL18</text>
<text class="b" transform="translate(947.2,1332) rotate(-90)" textLength="49" lengthAdjust="spacingAndGlyphs">HL19</text>
<text class="b" transform="translate(1017.8,1332) rotate(-90)" textLength="49" lengthAdjust="spacingAndGlyphs">HL20</text>
<text class="b" transform="translate(1088.4,1332) rotate(-90)" textLength="49" lengthAdjust="spacingAndGlyphs">HL21</text>
<text class="b" transform="translate(1159,1332) rotate(-90)" textLength="49" lengthAdjust="spacingAndGlyphs">HL22</text>
<text class="b" transform="translate(1340,1330) rotate(-90)" textLength="36" lengthAdjust="spacingAndGlyphs">HL1</text>
<text class="b" transform="translate(1387.7,1330) rotate(-90)" textLength="36" lengthAdjust="spacingAndGlyphs">HL2</text>
<text class="b" transform="translate(1435,1330) rotate(-90)" textLength="36" lengthAdjust="spacingAndGlyphs">HL3</text>
<text class="b" transform="translate(1482,1330) rotate(-90)" textLength="36" lengthAdjust="spacingAndGlyphs">HL4</text>
<text class="b" transform="translate(1529.6,1330) rotate(-90)" textLength="36" lengthAdjust="spacingAndGlyphs">HL5</text>
<text class="b" transform="translate(1577,1330) rotate(-90)" textLength="36" lengthAdjust="spacingAndGlyphs">HL6</text>
</g>
<text x="167" y="1607" font-size="44" textLength="88" lengthAdjust="spacingAndGlyphs">DD11</text>
<text x="578" y="1612" font-size="44" textLength="79" lengthAdjust="spacingAndGlyphs">DD9</text>
<text x="927" y="1615" font-size="44" textLength="89" lengthAdjust="spacingAndGlyphs">DD12</text>
<text transform="translate(1254.2,1593) rotate(-90)" text-anchor="middle" font-size="40" textLength="67" lengthAdjust="spacingAndGlyphs">DD3</text>
<text transform="translate(1350,1580.6) rotate(-90)" text-anchor="middle" font-size="30" textLength="34" lengthAdjust="spacingAndGlyphs">R8</text>
<text transform="translate(1397.7,1580.6) rotate(-90)" text-anchor="middle" font-size="30" textLength="34" lengthAdjust="spacingAndGlyphs">R9</text>
<text transform="translate(1445,1580.6) rotate(-90)" text-anchor="middle" font-size="30" textLength="50" lengthAdjust="spacingAndGlyphs">R10</text>
<text transform="translate(1492,1580.6) rotate(-90)" text-anchor="middle" font-size="30" textLength="50" lengthAdjust="spacingAndGlyphs">R11</text>
<text transform="translate(1539.6,1580.6) rotate(-90)" text-anchor="middle" font-size="30" textLength="50" lengthAdjust="spacingAndGlyphs">R12</text>
<text transform="translate(1587,1580.6) rotate(-90)" text-anchor="middle" font-size="30" textLength="50" lengthAdjust="spacingAndGlyphs">R13</text>
<text transform="translate(165.7,1850) rotate(-90)" text-anchor="middle" font-size="40" textLength="78" lengthAdjust="spacingAndGlyphs">DD7</text>
<text transform="translate(354.2,1847) rotate(-90)" text-anchor="middle" font-size="40" textLength="68" lengthAdjust="spacingAndGlyphs">DD6</text>
<text x="637.7" y="1871" font-size="44" textLength="79" lengthAdjust="spacingAndGlyphs">DD8</text>
<text transform="translate(1019.2,1870) rotate(-90)" text-anchor="middle" font-size="40" textLength="76" lengthAdjust="spacingAndGlyphs">DD2</text>
<text transform="translate(1253.2,1880) rotate(-90)" text-anchor="middle" font-size="40" textLength="77" lengthAdjust="spacingAndGlyphs">DD5</text>
<text transform="translate(1432.8,1870) rotate(-90)" text-anchor="middle" font-size="40" textLength="100" lengthAdjust="spacingAndGlyphs">DD10</text>
<text transform="translate(1610,1877) rotate(-90)" text-anchor="middle" font-size="46" textLength="79" lengthAdjust="spacingAndGlyphs">XN1</text>
<text x="1572" y="1786" font-size="24" textLength="44" lengthAdjust="spacingAndGlyphs">Data</text>
<text x="1572" y="1810" font-size="24" textLength="44" lengthAdjust="spacingAndGlyphs">Clk1</text>
<text x="1572" y="1834" font-size="24" textLength="44" lengthAdjust="spacingAndGlyphs">Clk2</text>
<text x="296" y="2027" font-size="32" textLength="56" lengthAdjust="spacingAndGlyphs">VD1</text>
<text x="293" y="2310" font-size="32" textLength="62" lengthAdjust="spacingAndGlyphs">VD2</text>
<text x="197" y="2106" font-size="30" textLength="30" lengthAdjust="spacingAndGlyphs">C6</text>
<text x="335" y="2106" font-size="30" textLength="30" lengthAdjust="spacingAndGlyphs">C7</text>
<text x="563" y="2106" font-size="30" textLength="30" lengthAdjust="spacingAndGlyphs">C4</text>
<text x="680" y="2106" font-size="30" textLength="30" lengthAdjust="spacingAndGlyphs">C5</text>
<text x="196" y="2082" font-size="22">+</text><text x="199" y="2126" font-size="22">-</text>
<text x="335" y="2082" font-size="22">+</text><text x="338" y="2126" font-size="22">-</text>
<text x="565" y="2080" font-size="22">-</text><text x="561" y="2128" font-size="22">+</text>
<text x="682" y="2080" font-size="22">-</text><text x="678" y="2128" font-size="22">+</text>
<text x="35" y="2149" font-size="26" textLength="62" lengthAdjust="spacingAndGlyphs">GND</text>
<text x="35" y="2237" font-size="26" textLength="62" lengthAdjust="spacingAndGlyphs">+12В</text>
<text x="235" y="2211" font-size="40" textLength="76" lengthAdjust="spacingAndGlyphs">DA1</text>
<text x="595.5" y="2211" font-size="44" textLength="79" lengthAdjust="spacingAndGlyphs">DD4</text>
<text transform="translate(794.2,2152.5) rotate(-90)" text-anchor="middle" font-size="28" textLength="30" lengthAdjust="spacingAndGlyphs">R1</text>
<text transform="translate(823.2,2152.5) rotate(-90)" text-anchor="middle" font-size="28" textLength="30" lengthAdjust="spacingAndGlyphs">R2</text>
<text x="868" y="2178" font-size="28" textLength="34" lengthAdjust="spacingAndGlyphs">R3</text>
<text x="868" y="2266" font-size="28" textLength="30" lengthAdjust="spacingAndGlyphs">C1</text>
<text transform="translate(1018.2,2169) rotate(-90)" text-anchor="middle" font-size="40" textLength="71" lengthAdjust="spacingAndGlyphs">DD1</text>
<text transform="translate(1100.2,2152.5) rotate(-90)" text-anchor="middle" font-size="28" textLength="34" lengthAdjust="spacingAndGlyphs">R6</text>
<text transform="translate(1129.7,2152.5) rotate(-90)" text-anchor="middle" font-size="28" textLength="34" lengthAdjust="spacingAndGlyphs">R7</text>
<text x="1137" y="2116" font-size="28" textLength="36" lengthAdjust="spacingAndGlyphs">C3</text>
<text transform="translate(1253,2110) rotate(-90)" text-anchor="middle" font-size="46" textLength="67" lengthAdjust="spacingAndGlyphs">SA1</text>
<text transform="translate(1431,2110) rotate(-90)" text-anchor="middle" font-size="46" textLength="67" lengthAdjust="spacingAndGlyphs">SB1</text>
<text x="1476" y="2120" font-size="28" textLength="36" lengthAdjust="spacingAndGlyphs">C2</text>
<text transform="translate(1538.8,2152.5) rotate(-90)" text-anchor="middle" font-size="28" textLength="34" lengthAdjust="spacingAndGlyphs">R5</text>
<text transform="translate(1586.2,2152.5) rotate(-90)" text-anchor="middle" font-size="28" textLength="34" lengthAdjust="spacingAndGlyphs">R4</text>

<!-- dimensions -->
<path d="M1651,1286.4H1827 M1651,2345.5H1827 M3.5,2345V2455 M1651,2345V2455" fill="none" stroke="#000" stroke-width="4"/>
<path d="M1802.7,1310V2325" fill="none" stroke="#000" stroke-width="4"/>
<path d="M1802.7,1288L1815,1330L1802.7,1320L1790,1330Z"/>
<path d="M1802.7,2344L1815,2302L1802.7,2312L1790,2302Z"/>
<path d="M30,2433.8H1625" fill="none" stroke="#000" stroke-width="5.5"/>
<path d="M6,2433.8L46,2421L36,2433.8L46,2446.5Z"/>
<path d="M1649,2433.8L1609,2421L1619,2433.8L1609,2446.5Z"/>
<text x="783" y="2427" font-size="57" textLength="82" lengthAdjust="spacingAndGlyphs">140</text>
<text transform="translate(1793,1819) rotate(-90)" text-anchor="middle" font-size="60" textLength="55" lengthAdjust="spacingAndGlyphs">90</text>

<!-- caption -->
<text x="6" y="2515" font-size="50" font-weight="bold" textLength="117" lengthAdjust="spacingAndGlyphs">Рис. 4.</text>
<text x="134" y="2515" font-size="50" textLength="1369" lengthAdjust="spacingAndGlyphs">Светодинамическое устройство “бегущая волна”. Топология печатной платы.</text>
</svg>
</body></html>
